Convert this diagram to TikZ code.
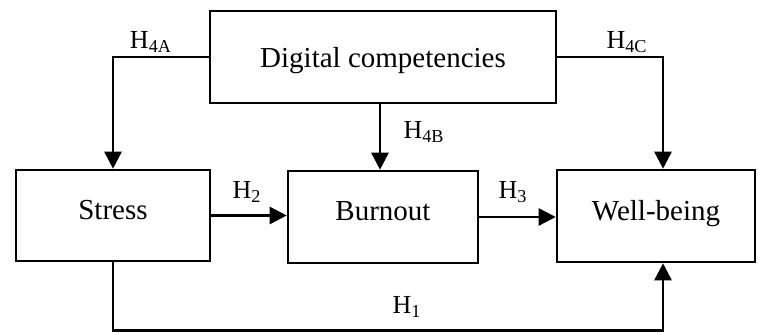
\documentclass[tikz,border=0pt]{standalone}
\usepackage{fontspec}
\setmainfont{Liberation Serif}
\usetikzlibrary{arrows.meta}
\begin{document}
\begin{tikzpicture}[x=0.5pt,y=-0.5pt,
    box/.style={draw,line width=1.3pt,inner sep=0pt,font=\fontsize{14.5}{17}\selectfont},
    link/.style={line width=1.3pt,-{Triangle[length=8.5pt,width=8.5pt]}},
    hyp/.style={inner sep=0pt,font=\fontsize{13}{15}\selectfont}]
      \useasboundingbox (0,0) rectangle (758,331);%

      \node[box,minimum width=173pt,minimum height=46pt,text depth=0pt] (dig) at (383,57) {Digital competencies};%
      \node[box,minimum width=97pt,minimum height=45.5pt,text depth=6pt] (stress) at (113,215.5) {Stress};%
      \node[box,minimum width=95pt,minimum height=46pt,text depth=6pt] (burn) at (383,217) {Burnout};%
      \node[box,minimum width=99pt,minimum height=46pt,text depth=6pt] (well) at (656,216) {Well-being};%

      \draw[link] (dig.west) -| (stress.north);%
      \draw[link] ([xshift=-1.5pt]dig.south) -- ([xshift=-1.5pt]burn.north);%
      \draw[link] (dig.east) -| ([xshift=3.5pt]well.north);%
      \draw[link] (stress.east) -- (stress.east -| burn.west);%
      \draw[link] (burn.east) -- (burn.east -| well.west);%
      \draw[link] (stress.south) -- ++(0,68) -| ([xshift=3.5pt]well.south);%

      \node[hyp] (h4a) at (151,42) {H\textsubscript{4A}};%
      \node[hyp] (h4b) at (424,132) {H\textsubscript{4B}};%
      \node[hyp] (h4c) at (627,42) {H\textsubscript{4C}};%
      \node[hyp] (h2) at (247,192) {H\textsubscript{2}};%
      \node[hyp] (h3) at (513,192) {H\textsubscript{3}};%
      \node[hyp] (h1) at (407,307) {H\textsubscript{1}};%
    \end{tikzpicture}
\end{document}
